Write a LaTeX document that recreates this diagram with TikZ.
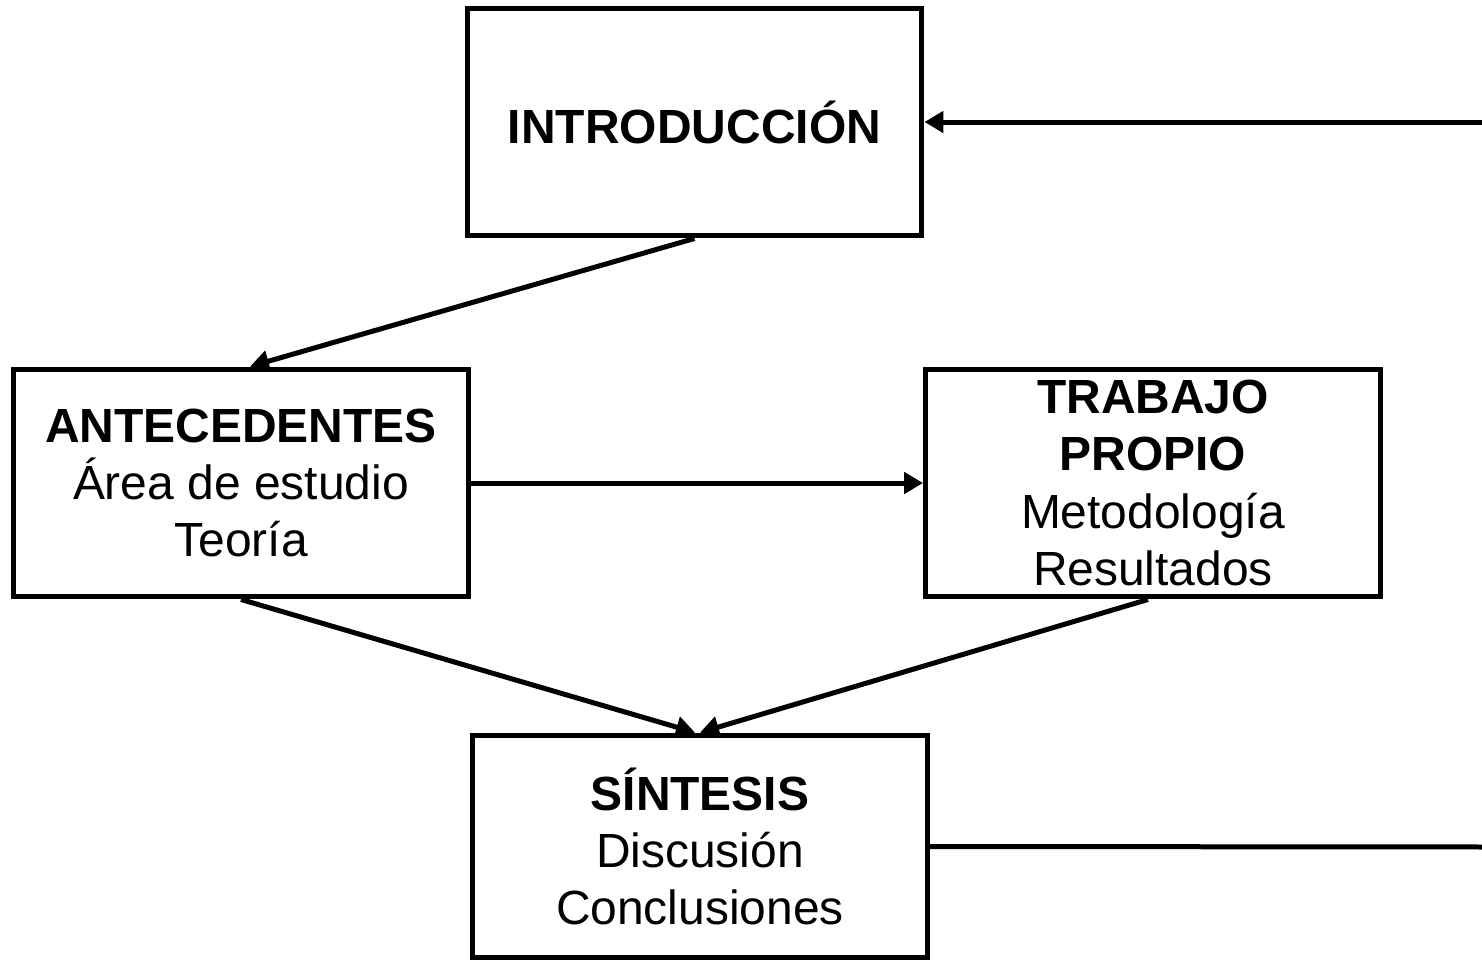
\documentclass[tikz,border=0pt]{standalone}
\usepackage{fontspec}
\setmainfont{Liberation Sans}
\usetikzlibrary{arrows.meta}
\begin{document}
\begin{tikzpicture}[x=0.02cm,y=-0.02cm,
  box/.style={draw=black, line width=0.1cm, minimum width=9.1cm, minimum height=4.56cm,
    inner sep=0pt, align=center, font=\fontsize{27.3pt}{32.7pt}\selectfont},
  conn/.style={line width=0.1cm, -{Triangle[length=0.38cm,width=0.42cm]}},
  plain/.style={line width=0.1cm}]
\useasboundingbox (0,0) rectangle (1482,960);
\node[box] (intro) at (694.5,122) {\textbf{INTRODUCCIÓN}};
\node[box] (ant) at (241,483) {\textbf{ANTECEDENTES}\\Área de estudio\\Teoría};
\node[box] (trab) at (1153,483) {\textbf{TRABAJO}\\\textbf{PROPIO}\\Metodología\\Resultados};
\node[box, minimum height=4.46cm] (syn) at (700,846.5) {\textbf{SÍNTESIS}\\Discusión\\Conclusiones};
\coordinate (r1) at (1486,122);
\coordinate (r2) at (1486,847);
\draw[conn] (intro.south) -- ([xshift=0.18cm]ant.north);
\draw[conn] (ant.east) -- (trab.west);
\draw[conn] (ant.south) -- ([xshift=-0.1cm]syn.north);
\draw[conn] ([xshift=-0.1cm]trab.south) -- (syn.north);
\draw[plain] (syn.east) -- (r2) -- (r1);
\draw[conn] (r1) -- (intro.east);
\end{tikzpicture}
\end{document}
